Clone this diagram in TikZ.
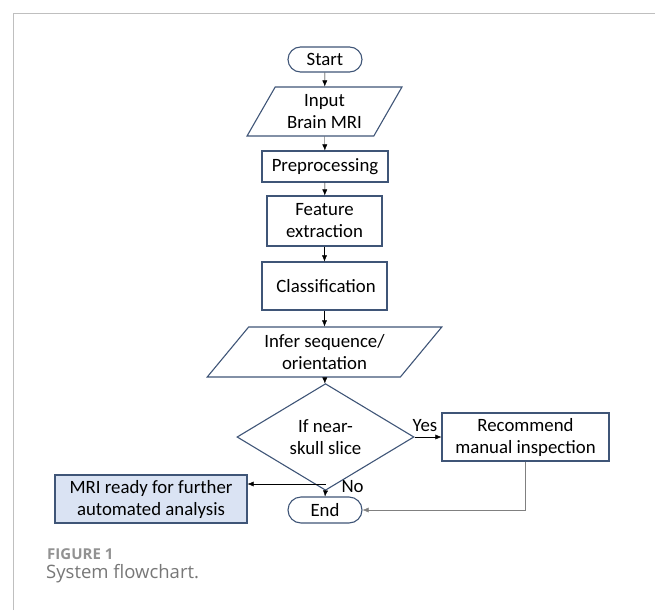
\documentclass[tikz,border=0pt]{standalone}
\usepackage{fontspec}
\setmainfont{Carlito}
\newfontfamily\capfont{Open Sans}
\usepackage{tikz}
\usetikzlibrary{shapes,arrows,arrows.meta,positioning}
\definecolor{boxline}{HTML}{3F5577}
\definecolor{boxfill}{HTML}{DAE3F3}
\definecolor{capgray}{HTML}{777777}
\tikzstyle{tbox}=[rectangle,draw=boxline,line width=1.1pt,align=center,inner sep=0pt]
\tikzstyle{tterm}=[tbox,rounded corners=12.5pt,minimum width=74pt,minimum height=25pt]
\tikzstyle{tdata}=[trapezium,draw=boxline,line width=1.1pt,align=center,inner sep=0pt,trapezium stretches=true]
\tikzstyle{tdec}=[diamond,draw=boxline,line width=1.1pt,align=center,inner sep=0pt]

\begin{document}
\begin{tikzpicture}[x=1pt,y=-1pt,font=\fontsize{18.8}{22}\selectfont]

  \useasboundingbox (0,0) rectangle (655,610);
  \draw[gray!50,line width=1.5pt] (13.5,610) -- (13.5,13.5) -- (655,13.5);

  \node[tterm] (start) at (325,59.5) {Start};
  \node[tdata,trapezium left angle=58,trapezium right angle=122,minimum width=155pt,minimum height=49pt] (input) at (324.5,111.5) {Input\\Brain MRI};
  \node[tbox,minimum width=126pt,minimum height=31pt] (pre) at (325,166.5) {Preprocessing};
  \node[tbox,minimum width=115pt,minimum height=50pt] (feat) at (324.5,221) {Feature\\extraction};
  \node[tbox,minimum width=125pt,minimum height=48pt] (cls) at (324.5,286) {\,Classification};
  \node[tdata,trapezium left angle=47,trapezium right angle=133,minimum width=235pt,minimum height=50pt] (infer) at (324.5,352) {Infer sequence/\\orientation};
  \node[tdec,minimum width=177pt,minimum height=86pt] (dec) at (325.5,437) {If near-\\skull slice};
  \node[tbox,minimum width=167pt,minimum height=48pt] (rec) at (525.5,437) {Recommend\\manual inspection};
  \node[tterm,minimum height=26pt,rounded corners=13pt] (end) at (325,510) {End};
  \node[tbox,fill=boxfill,minimum width=192pt,minimum height=48pt] (ready) at (151,499) {MRI ready for further\\automated analysis};

  \coordinate (split) at (325.5,484);

  \draw[style={->,>={Latex[length=6pt,width=5pt]}}] (start) to (input);
  \draw[style={->,>={Latex[length=6pt,width=5pt]}}] (input) to (pre);
  \draw[style={->,>={Latex[length=6pt,width=5pt]}}] (pre) to (feat);
  \draw[style={->,>={Latex[length=6pt,width=5pt]}}] (feat) to (cls);
  \draw[style={->,>={Latex[length=6pt,width=5pt]}}] (cls) to (infer);
  \draw[style={->,>={Latex[length=6pt,width=5pt]}}] (infer) to (dec);
  \draw[style={->,>={Latex[length=6pt,width=5pt]}}] (dec) to node[above,yshift=2pt,xshift=-3pt] {Yes} (rec);
  \draw[style={->,>={Latex[length=6pt,width=5pt]}}] (dec.south) to (end.north);
  \draw[style={->,>={Latex[length=6pt,width=5pt]}}] (split) to (split -| ready.east);
  \draw[gray,style={->,>={Latex[length=6pt,width=5pt]}}] (rec.south) |- (end.east);

  \node[anchor=west] (no) at (338,487) {No};

  \node[anchor=base west,inner sep=0pt,text=capgray!80,font=\capfont\bfseries\fontsize{15}{17}\selectfont] (fig) at (47,559) {FIGURE 1};
  \node[anchor=base west,inner sep=0pt,text=capgray,font=\capfont\fontsize{18.5}{21}\selectfont] (cap) at (46,578) {System flowchart.};

\end{tikzpicture}
\end{document}
